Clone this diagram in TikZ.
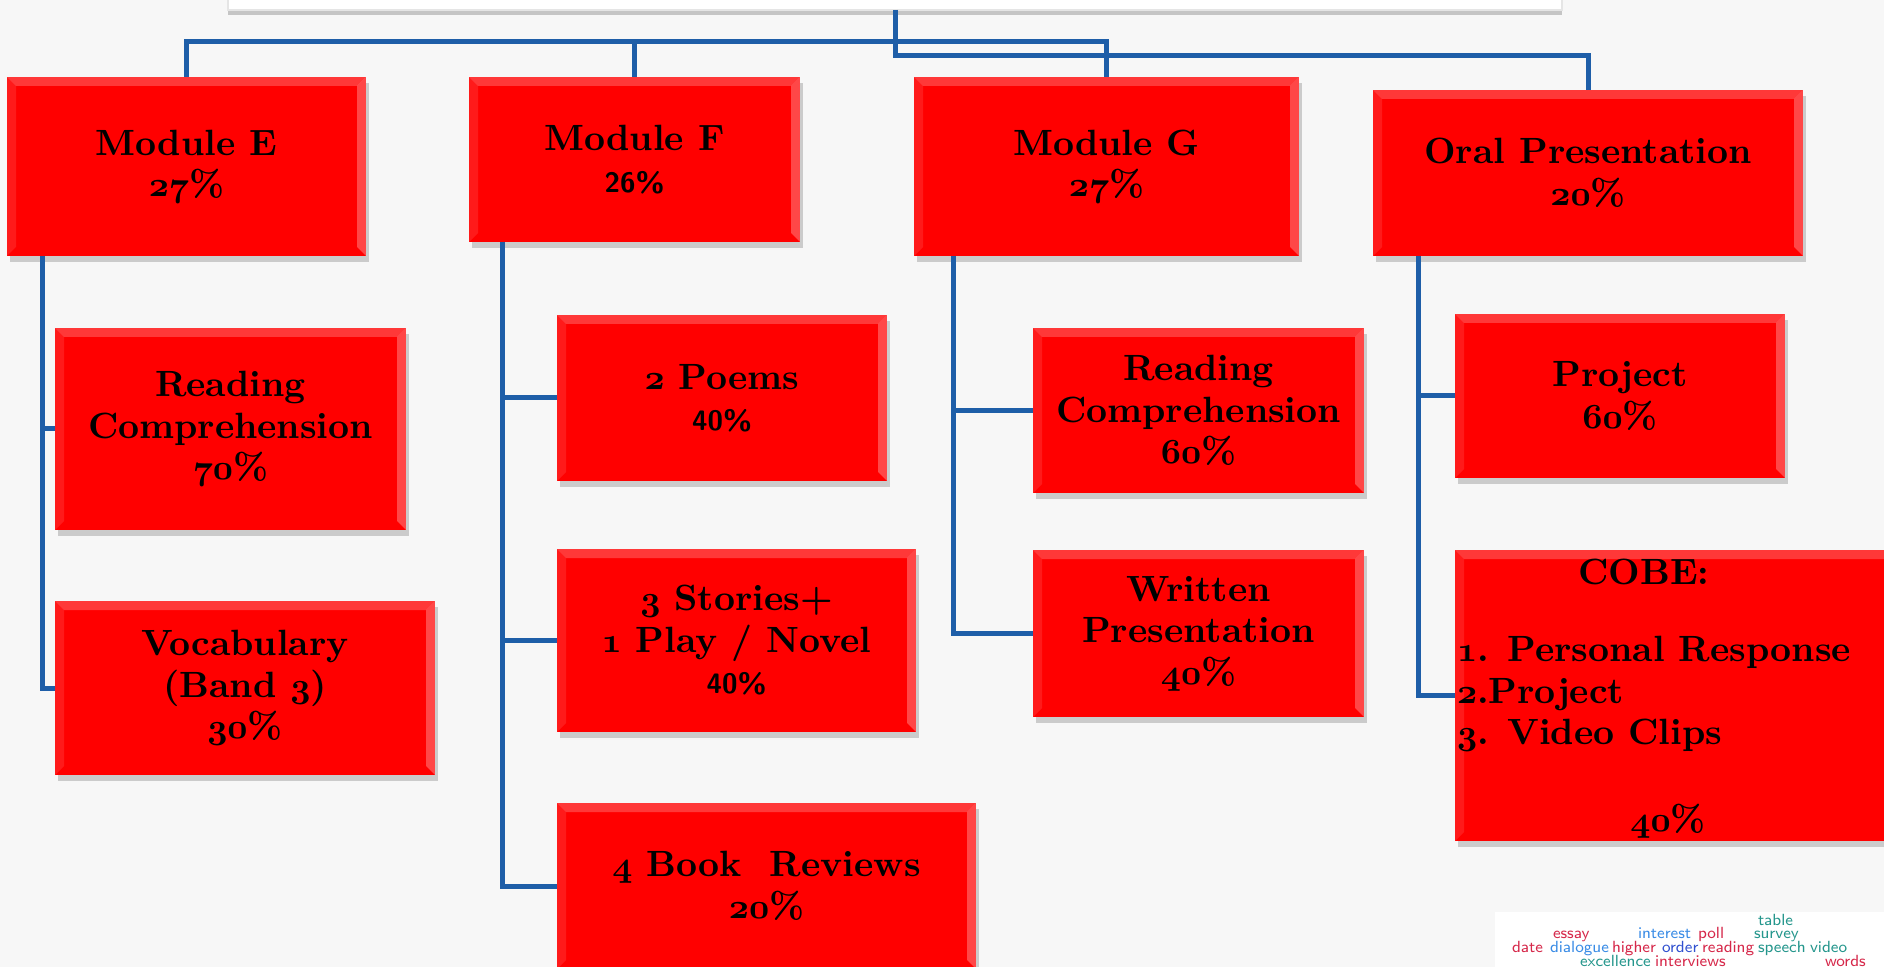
\documentclass[tikz,border=0pt]{standalone}
\usetikzlibrary{shadows}

\definecolor{boxred}{RGB}{255,0,0}
\definecolor{linkblue}{RGB}{30,94,168}
\definecolor{cloudred}{RGB}{214,40,74}
\definecolor{cloudblue}{RGB}{58,140,230}
\definecolor{clouddark}{RGB}{48,80,208}
\definecolor{cloudteal}{RGB}{36,150,140}

\newcommand{\osn}[1]{{\usefont{OML}{cmm}{b}{it}#1}}
\newcommand{\pc}[1]{\osn{#1}\%}
\newcommand{\spc}[1]{{\sffamily\fontsize{8}{9}\selectfont #1\%}}

\tikzset{
  bevel/.style={path picture={
    \fill[white,opacity=.22] (path picture bounding box.north west) -- (path picture bounding box.north east)
      -- ([xshift=-0.9mm,yshift=-0.9mm]path picture bounding box.north east)
      -- ([xshift=0.9mm,yshift=-0.9mm]path picture bounding box.north west) -- cycle;
    \fill[white,opacity=.28] (path picture bounding box.north east) -- (path picture bounding box.south east)
      -- ([xshift=-0.9mm,yshift=0.9mm]path picture bounding box.south east)
      -- ([xshift=-0.9mm,yshift=-0.9mm]path picture bounding box.north east) -- cycle;
    \fill[white,opacity=.1] (path picture bounding box.north west) -- (path picture bounding box.south west)
      -- ([xshift=0.9mm,yshift=0.9mm]path picture bounding box.south west)
      -- ([xshift=0.9mm,yshift=-0.9mm]path picture bounding box.north west) -- cycle;
  }},
}

\begin{document}
\begin{tikzpicture}[x=0.1mm,y=-0.1mm,
  every node/.style={inner sep=0pt,outer sep=0pt},
  card/.style={rectangle,fill=boxred,bevel,
    drop shadow={shadow xshift=0.3mm,shadow yshift=-0.6mm,opacity=0.22,fill=black!80},
    align=center,font=\bfseries\fontsize{10.4}{11.8}\selectfont},
  cardtext/.style={align=center,font=\bfseries\fontsize{10.4}{11.8}\selectfont},
  rootbox/.style={rectangle,fill=white,draw=black!10,
    drop shadow={shadow xshift=0mm,shadow yshift=-0.5mm,opacity=0.25,fill=black!80}},
  link/.style={draw=linkblue,line width=0.5mm},
  word/.style={anchor=base west,font=\sffamily\fontsize{4.6}{5}\selectfont}]
  \clip (0,0) rectangle (1884,967);
  \fill[black!3] (0,0) rectangle (1884,967);

  \node[rootbox,minimum width=133.4mm,minimum height=5mm] (root) at (895,-15) {};

  % modules
  \node[card,minimum width=35.9mm,minimum height=17.9mm] (mode) at (186.5,166.5) {Module E\\\pc{27}};
  \node[card,minimum width=33.1mm,minimum height=16.5mm] (modf) at (634.5,159.5) {Module F\\\spc{26}};
  \node[card,minimum width=38.5mm,minimum height=17.9mm] (modg) at (1106.5,166.5) {Module G\\\pc{27}};
  \node[card,minimum width=43mm,minimum height=16.6mm] (oral) at (1588,173) {Oral Presentation\\\pc{20}};

  % module E parts
  \node[card,minimum width=35.1mm,minimum height=20.2mm] (e1) at (230.5,429) {Reading\\Comprehension\\\pc{70}};
  \node[card,minimum width=38mm,minimum height=17.4mm] (e2) at (245,688) {Vocabulary\\(Band \osn{3})\\\pc{30}};

  % module F parts
  \node[card,minimum width=33mm,minimum height=16.6mm] (f1) at (722,398) {\osn{2} Poems\\\spc{40}};
  \node[card,minimum width=35.9mm,minimum height=18.3mm] (f2) at (736.5,640.5) {\osn{3} Stories+\\\osn{1} Play / Novel\\\spc{40}};
  \node[card,minimum width=41.9mm,minimum height=16.6mm] (f3) at (766.5,886) {\osn{4} Book~ Reviews\\\pc{20}};

  % module G parts
  \node[card,minimum width=33.1mm,minimum height=16.5mm] (g1) at (1198.5,410.5) {Reading\\Comprehension\\\pc{60}};
  \node[card,minimum width=33.1mm,minimum height=16.7mm] (g2) at (1198.5,633.5) {Written\\Presentation\\\pc{40}};

  % oral parts
  \node[card,minimum width=33mm,minimum height=16.4mm] (o1) at (1620,396) {Project\\\pc{60}};
  \node[card,minimum width=45mm,minimum height=29.1mm] (o2) at (1680,695.5) {};
  \node[cardtext] (cobe) at (1644,572) {COBE:};
  \node[cardtext,anchor=west,align=left] (cobelist) at (1457,694)
    {\osn{1}. Personal Response\\\osn{2}.Project\\\osn{3}. Video Clips};
  \node[cardtext] (cobepct) at (1668,821) {\pc{40}};

  % top bars
  \coordinate (bar) at ([yshift=-3.2mm]root.south);
  \coordinate (bartwo) at ([yshift=-4.6mm]root.south);
  \draw[link] (root.south) -- (bar) -| (mode.north);
  \draw[link] (bar) -| (modf.north);
  \draw[link] (bar) -| (modg.north);
  \draw[link] (bar) -- (bartwo) -| (oral.north);

  % trunks
  \draw[link] ([xshift=3.5mm]mode.south west) |- (e1.west);
  \draw[link] ([xshift=3.5mm]mode.south west) |- (e2.west);
  \draw[link] ([xshift=3.3mm]modf.south west) |- (f1.west);
  \draw[link] ([xshift=3.3mm]modf.south west) |- (f2.west);
  \draw[link] ([xshift=3.3mm]modf.south west) |- (f3.west);
  \draw[link] ([xshift=3.9mm]modg.south west) |- (g1.west);
  \draw[link] ([xshift=3.9mm]modg.south west) |- (g2.west);
  \draw[link] ([xshift=4.5mm]oral.south west) |- (o1.west);
  \draw[link] ([xshift=4.5mm]oral.south west) |- (o2.west);

  % word cloud
  \fill[white] (1495,912) rectangle (1884,967);
  \node[word,text=cloudteal] (wtable) at (1758,925) {table};
  \node[word,text=cloudred] (wessay) at (1553,938) {essay};
  \node[word,text=cloudblue] (winterest) at (1638,938) {interest};
  \node[word,text=cloudred] (wpoll) at (1698,938) {poll};
  \node[word,text=cloudteal] (wsurvey) at (1754,938) {survey};
  \node[word,text=cloudred] (wdate) at (1512,952) {date};
  \node[word,text=cloudblue] (wdialogue) at (1550,952) {dialogue};
  \node[word,text=cloudred] (whigher) at (1612,952) {higher};
  \node[word,text=clouddark] (worder) at (1662,952) {order};
  \node[word,text=cloudred] (wreading) at (1702,952) {reading};
  \node[word,text=cloudteal] (wspeech) at (1758,952) {speech};
  \node[word,text=cloudteal] (wvideo) at (1810,952) {video};
  \node[word,text=cloudteal] (wexcellence) at (1580,966) {excellence};
  \node[word,text=cloudred] (winterviews) at (1655,966) {interviews};
  \node[word,text=cloudred] (wwords) at (1825,966) {words};
\end{tikzpicture}
\end{document}
